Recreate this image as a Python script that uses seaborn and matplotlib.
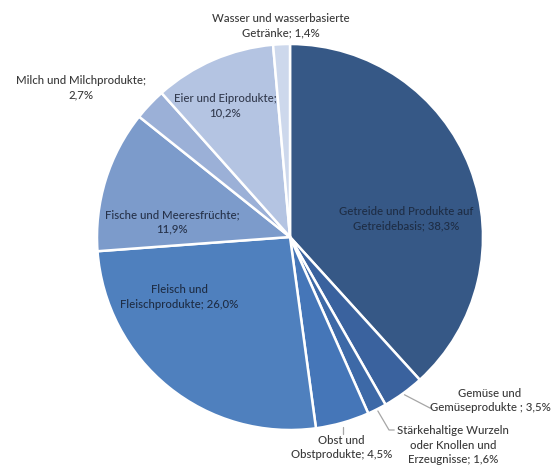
import matplotlib
matplotlib.use("Agg")
import matplotlib.pyplot as plt
import seaborn as sns
import numpy as np

# Shares of food groups (percent), clockwise from 12 o'clock
categories = [
    "Getreide und Produkte auf\nGetreidebasis",
    "Gemüse und\nGemüseprodukte ",
    "Stärkehaltige Wurzeln\noder Knollen und\nErzeugnisse",
    "Obst und\nObstprodukte",
    "Fleisch und\nFleischprodukte",
    "Fische und Meeresfrüchte",
    "Milch und Milchprodukte",
    "Eier und Eiprodukte",
    "Wasser und wasserbasierte\nGetränke",
]
values = [38.3, 3.5, 1.6, 4.5, 26.0, 11.9, 2.7, 10.2, 1.4]
value_labels = ["38,3%", "3,5%", "1,6%", "4,5%", "26,0%", "11,9%", "2,7%", "10,2%", "1,4%"]

colors = sns.color_palette([
    "#365886", "#3a629e", "#3d69a7", "#4576b8", "#4f80be",
    "#7c9bcb", "#9bb0d7", "#b4c4e2", "#cdd8ec",
])

sns.set_theme(style="white")
plt.rcParams["font.family"] = ["Lato", "DejaVu Sans"]

fig = plt.figure(figsize=(5.55, 4.65), dpi=100)
ax = fig.add_axes([97 / 555, 35 / 465, 386 / 555, 386 / 465])

wedges, _ = ax.pie(
    values, colors=colors, startangle=90, counterclock=False,
    radius=1.0, wedgeprops=dict(edgecolor="white", linewidth=1.8),
)
ax.set_xlim(-1, 1)
ax.set_ylim(-1, 1)
ax.set_aspect("auto")
ax.axis("off")

txt = "#3a3a3a"
fs = 8.2
ls = 1.4


def label(i, sep="; "):
    return f"{categories[i]}{sep}{value_labels[i]}"


def put(x, y, s, color=txt):
    ax.text(x, y, s, ha="center", va="center", fontsize=fs, color=color,
            linespacing=ls, fontweight="medium")


# Labels inside the larger slices
put(0.60, 0.095, label(0), "#1e2d45")
put(-0.575, -0.311, label(4), "#1e2d45")
put(-0.611, 0.078, f"{categories[5]};\n{value_labels[5]}", "#26324a")
put(-0.337, 0.681, f"{categories[7]};\n{value_labels[7]}", "#333b4f")

# Labels outside the smaller slices
put(-1.083, 0.775, f"{categories[6]};\n{value_labels[6]}")
put(-0.047, 1.096, label(8))
put(1.036, -0.847, label(1))
put(0.845, -1.078, label(2))
put(0.267, -1.091, label(3))


def mid_dir(i):
    w = wedges[i]
    ang = np.deg2rad((w.theta1 + w.theta2) / 2)
    return np.cos(ang), np.sin(ang)


lc = "#a6a6a6"
# Gemüse leader
cx, cy = mid_dir(1)
ax.plot([cx * 1.01, 0.725, 0.735], [cy * 1.01, -0.886, -0.886], color=lc, lw=0.9, clip_on=False)
# Stärkehaltige leader
cx, cy = mid_dir(2)
ax.plot([cx * 1.01, 0.513, 0.54], [cy * 1.01, -1.0, -1.0], color=lc, lw=0.9, clip_on=False)
# Obst leader
cx, cy = mid_dir(3)
ax.plot([cx, cx], [-0.985, -1.02], color=lc, lw=0.9, clip_on=False)

fig.savefig("out.png", dpi=100, facecolor="white")
